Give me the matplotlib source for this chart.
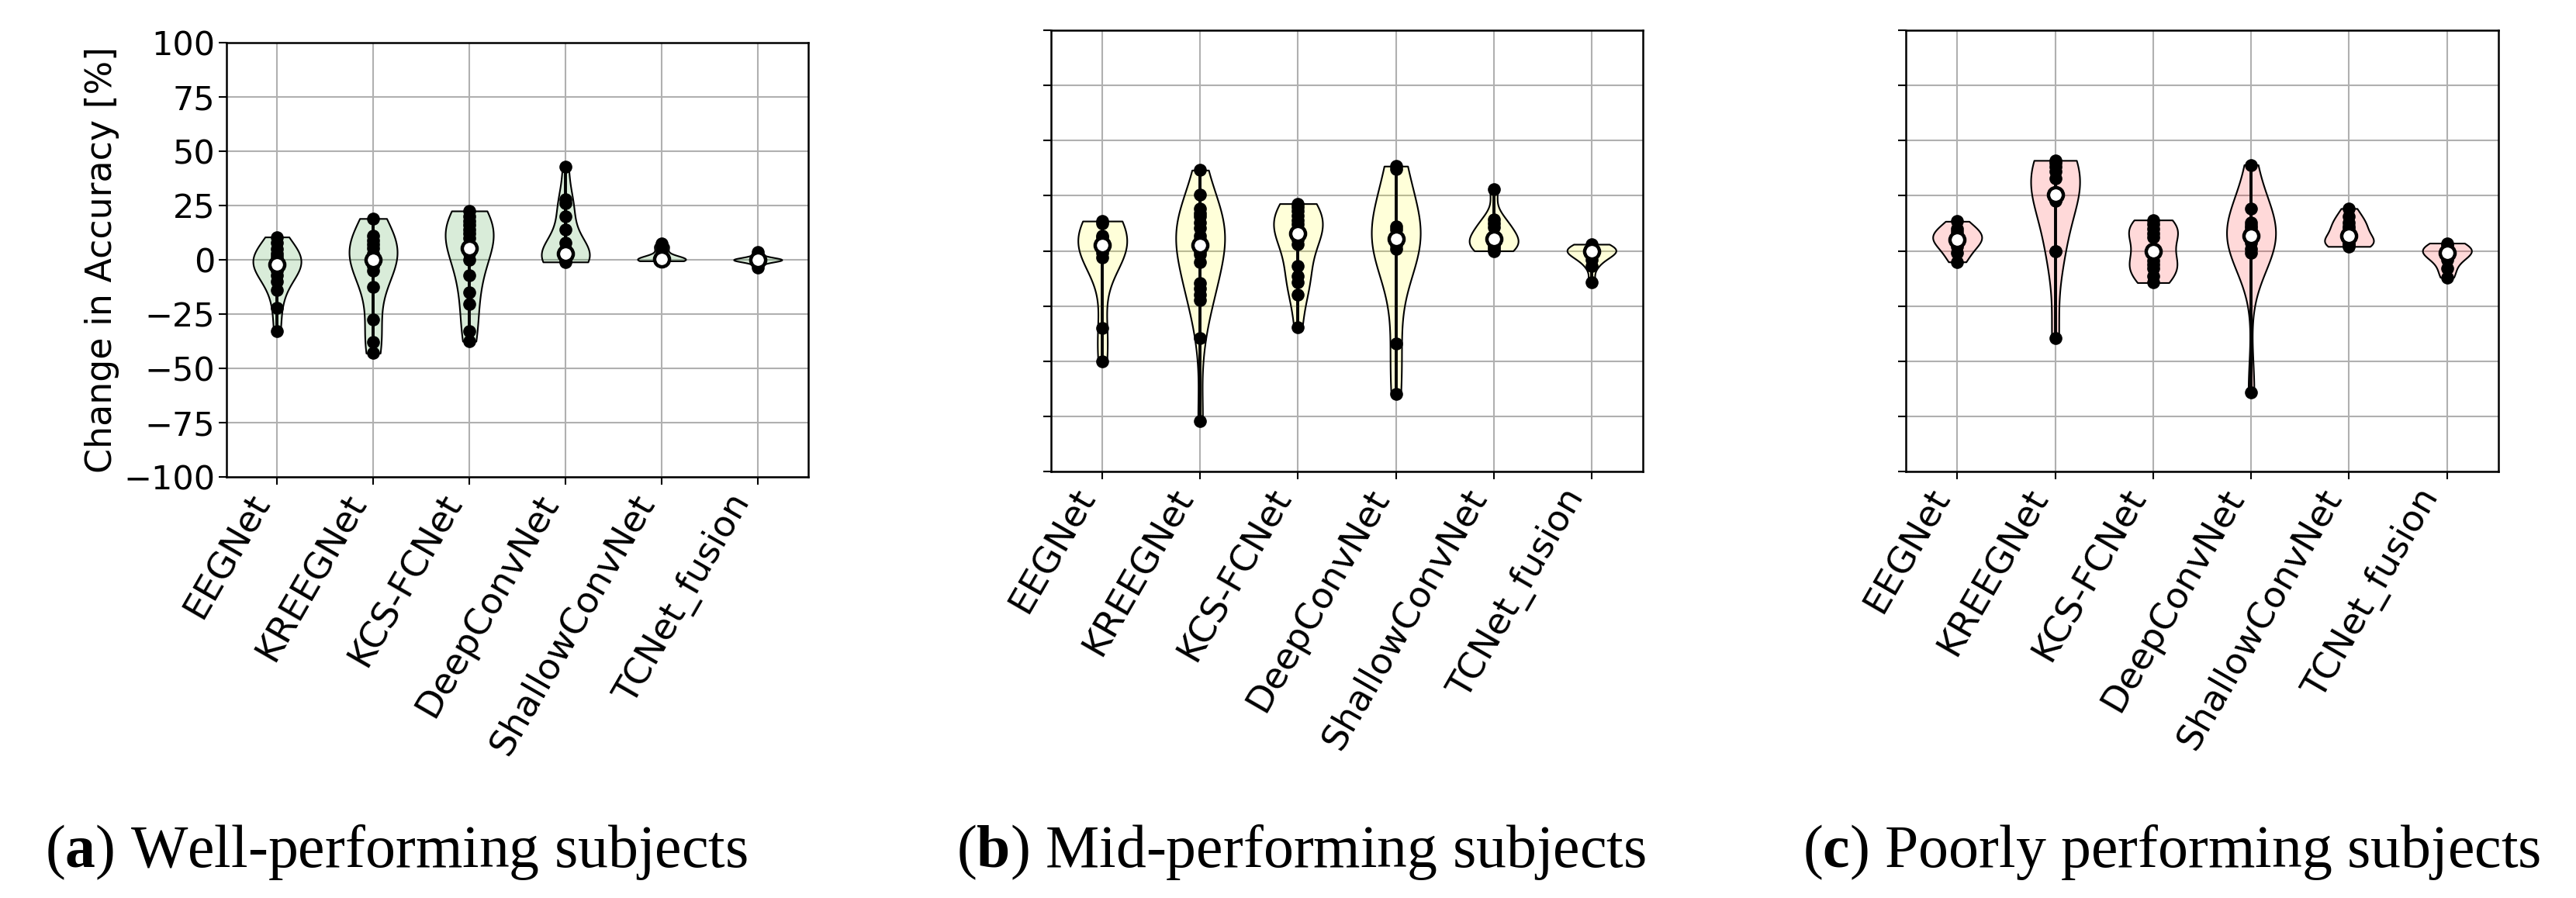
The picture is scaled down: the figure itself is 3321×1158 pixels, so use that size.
import numpy as np
import matplotlib
matplotlib.use('Agg')
import matplotlib.pyplot as plt
from matplotlib.colors import to_rgba

plt.rcParams['font.family'] = 'DejaVu Sans'
plt.rcParams['mathtext.fontset'] = 'custom'
plt.rcParams['mathtext.rm'] = 'Liberation Serif'
plt.rcParams['mathtext.bf'] = 'Liberation Serif:bold'

models = ['EEGNet', 'KREEGNet', 'KCS-FCNet', 'DeepConvNet', 'ShallowConvNet', 'TCNet_fusion']

# change in accuracy [%] per subject, one list per model
well_perf = [
    [10.5, 8, 5, 3, 1.5, 0, -1, -2, -3, -5, -7, -10, -14, -22, -33],
    [19, 11, 9, 7, 5.5, 3, 0, -3, -5, -12.5, -27.5, -38, -43],
    [22.5, 20, 18, 16, 14, 12, 10, 5.5, 3, 0, -7, -15, -20.5, -33, -37.5],
    [43, 28, 26, 20, 14, 8, 5, 3, 2, 1, 0.5, 0, 0, -0.5, -1],
    [7.5, 6.5, 5.5, 4, 2, 1, 0.5, 0.3, 0, 0, 0, 0, 0, -0.3, -0.5],
    [3.5, 2, 1, 0.5, 0.3, 0, 0, 0, 0, 0, -0.3, -0.5, -1, -2, -3.5],
]
mid_perf = [
    [13.5, 12.5, 7, 6, 4, 2.8, 1, -1, -3, -35, -50],
    [36.6, 25.5, 19, 17, 15.5, 13, 10.2, 7, 5, 2.8, 0, -1.5, -5, -14.5, -17, -19.7, -22.3, -39.7, -77.2],
    [21.4, 20, 18, 16, 14, 12, 10, 7.9, 5, 3, -6.8, -11.5, -14.4, -19.7, -34.7],
    [38.4, 37, 11, 9.5, 7, 5.5, 4, 2.6, 1, -42, -65],
    [27.8, 14.3, 12.5, 10.8, 7, 5.5, 4, 3, 2, 1, 0],
    [3, 2, 1, 0.5, 0, 0, -0.5, -2, -4, -6.8, -14.4],
]
poor_perf = [
    [13.4, 10, 8.5, 7, 5.2, 4, 2, -1, -5],
    [41, 40, 38, 36, 33, 25.5, 23, 22.5, 0, 0, -39.7],
    [14, 12, 10, 8, 6, 0, -4.5, -6, -8, -11.5, -14.4],
    [39, 19, 13, 11.5, 10.2, 6.7, 5, 3.8, 1, -0.9, -64.3],
    [19.2, 15.5, 13, 11, 10.2, 6.7, 5, 4, 3, 2.5, 2],
    [3.5, 2.5, 1, 0, -0.9, -2, -4, -8, -12],
]
captions = ['a', 'b', 'c']
caption_text = ['Well-performing subjects', 'Mid-performing subjects', 'Poorly performing subjects']
fill_colors = ['green', 'yellow', 'red']

W, H = 3321, 1158
fig = plt.figure(figsize=(W / 100, H / 100), dpi=100)


def px_axes(left, top, right, bottom):
    return fig.add_axes([left / W, 1 - bottom / H, (right - left) / W, (bottom - top) / H])


def draw_panel(ax, data, color):
    pos = np.arange(1, len(data) + 1)
    parts = ax.violinplot(data, showmeans=False, showmedians=False, showextrema=False)
    for body in parts['bodies']:
        body.set_facecolor(to_rgba(color, 0.15))
        body.set_edgecolor('black')
        body.set_linewidth(1.5)
        body.set_alpha(None)

    mins = [min(d) for d in data]
    maxs = [max(d) for d in data]
    meds = [np.median(d) for d in data]
    ax.vlines(pos, mins, maxs, color='k', lw=2.8, zorder=2)
    for p, d in zip(pos, data):
        ax.scatter(np.full(len(d), p), d, s=120, color='k', zorder=3)
    ax.scatter(pos, meds, s=190, color='white', edgecolor='k', lw=3.2, zorder=4)

    ax.set_ylim(-100, 100)
    ax.set_yticks(np.arange(-100, 101, 25))
    ax.set_xticks(pos)
    ax.set_xticklabels(models, rotation=60, ha='right', fontsize=33.5)
    ax.tick_params(axis='y', labelsize=31)
    ax.tick_params(length=7, width=1.5)
    ax.grid(True, color='#b0b0b0', lw=1.5)
    ax.set_axisbelow(True)
    for s in ax.spines.values():
        s.set_linewidth(1.8)


ax_a = px_axes(292, 55, 1042, 615)
ax_b = px_axes(1355, 39, 2118, 608)
ax_c = px_axes(2457, 39, 3221, 608)

draw_panel(ax_a, well_perf, fill_colors[0])
draw_panel(ax_b, mid_perf, fill_colors[1])
draw_panel(ax_c, poor_perf, fill_colors[2])

ax_a.set_ylabel('Change in Accuracy [%]', fontsize=33)
ax_b.set_yticklabels([])
ax_c.set_yticklabels([])

cap_x = [511, 1677, 2800]
for x, c, t in zip(cap_x, captions, caption_text):
    fig.text(x / W, 1 - 1118 / H, r'($\mathbf{%s}$) %s' % (c, t), ha='center', va='baseline',
             family='Liberation Serif', fontsize=56)

fig.savefig('out.png', dpi=100)
